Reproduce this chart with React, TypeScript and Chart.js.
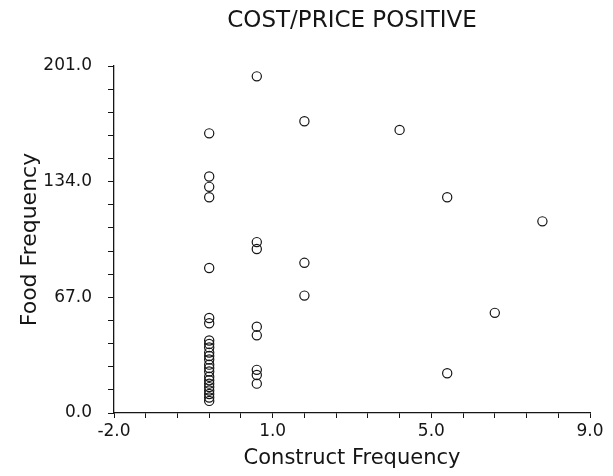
import React, { useEffect, useRef } from "react";
import { Chart, registerables } from "chart.js";

Chart.register(...registerables);

const TITLE = "COST/PRICE POSITIVE";
const X_TITLE = "Construct Frequency";
const Y_TITLE = "Food Frequency";

// Axis ranges and tick labels as printed on the original chart
const X_MIN = -2;
const X_MAX = 8;
const X_LABELS = ["-2.0", "1.0", "5.0", "9.0"];
const Y_MIN = 0;
const Y_MAX = 201;
const Y_LABELS = ["0.0", "67.0", "134.0", "201.0"];
const MINOR_PER_MAJOR = 5;

// Scatter points (construct frequency, food frequency)
const constructX = [
  0, 0, 0, 0, 0, 0, 0, 0, 0, 0, 0, 0, 0, 0, 0, 0, 0, 0, 0, 0, 0, 0, 0, 0,
  1, 1, 1, 1, 1, 1, 1, 1,
  2, 2, 2,
  4,
  5, 5,
  6,
  7,
];
const foodY = [
  162, 137, 131, 125, 84, 55, 52, 42, 40, 38, 35, 33, 31, 28, 26, 24, 21, 19, 17, 15, 13, 11, 9, 7,
  195, 99, 95, 50, 45, 25, 22, 17,
  169, 87, 68,
  164,
  125, 23,
  58,
  111,
];

const INK = "#151515";
const FONT = "'DejaVu Sans', sans-serif";

export default function App() {
  const ref = useRef<HTMLCanvasElement | null>(null);

  useEffect(() => {
    if (!ref.current) return;
    const points = constructX.map((x, i) => ({ x, y: foodY[i] }));
    const nMajorX = X_LABELS.length - 1;
    const nMajorY = Y_LABELS.length - 1;

    const chart = new Chart(ref.current, {
      type: "scatter",
      data: {
        datasets: [
          {
            data: points,
            pointRadius: 4.6,
            pointHoverRadius: 4.6,
            pointBorderWidth: 1.2,
            pointBorderColor: INK,
            pointBackgroundColor: "rgba(0,0,0,0)",
          },
        ],
      },
      options: {
        responsive: false,
        animation: false,
        events: [],
        layout: { padding: { left: 0, right: 23, top: 0, bottom: 0 } },
        plugins: {
          legend: { display: false },
          tooltip: { enabled: false },
          title: {
            display: true,
            text: TITLE,
            fullSize: false,
            color: INK,
            font: { family: FONT, size: 23, weight: "normal" },
            padding: { top: 7, bottom: 31.4 },
          },
        },
        scales: {
          x: {
            type: "linear",
            min: X_MIN,
            max: X_MAX,
            afterBuildTicks: (scale: any) => {
              const n = nMajorX * MINOR_PER_MAJOR;
              const t = [];
              for (let i = 0; i <= n; i++) t.push({ value: X_MIN + (i * (X_MAX - X_MIN)) / n });
              scale.ticks = t;
            },
            afterFit: (scale: any) => {
              scale.height = 63;
            },
            ticks: {
              autoSkip: false,
              maxRotation: 0,
              color: INK,
              padding: 3,
              font: { family: FONT, size: 17 },
              callback: (_v: any, i: number) => (i % MINOR_PER_MAJOR === 0 ? X_LABELS[i / MINOR_PER_MAJOR] : ""),
            },
            grid: {
              display: true,
              drawOnChartArea: false,
              drawTicks: true,
              tickLength: 5,
              color: INK,
              lineWidth: 1,
            },
            border: { display: true, color: INK, width: 1.3 },
            title: {
              display: true,
              text: X_TITLE,
              color: INK,
              font: { family: FONT, size: 21 },
              padding: { top: 0, bottom: 5 },
            },
          },
          y: {
            type: "linear",
            min: Y_MIN,
            max: Y_MAX,
            afterBuildTicks: (scale: any) => {
              const n = nMajorY * MINOR_PER_MAJOR;
              const t = [];
              for (let i = 0; i <= n; i++) t.push({ value: Y_MIN + (i * (Y_MAX - Y_MIN)) / n });
              scale.ticks = t;
            },
            afterFit: (scale: any) => {
              scale.width = 114;
            },
            ticks: {
              autoSkip: false,
              color: INK,
              padding: 16,
              font: { family: FONT, size: 17 },
              callback: (_v: any, i: number) => (i % MINOR_PER_MAJOR === 0 ? Y_LABELS[i / MINOR_PER_MAJOR] : ""),
            },
            grid: {
              display: true,
              drawOnChartArea: false,
              drawTicks: true,
              tickLength: 6,
              color: INK,
              lineWidth: 1,
            },
            border: { display: true, color: INK, width: 1.3 },
            title: {
              display: true,
              text: Y_TITLE,
              color: INK,
              font: { family: FONT, size: 22 },
              padding: { top: 17, bottom: 0 },
            },
          },
        },
      },
    });
    return () => chart.destroy();
  }, []);

  return (
    <div style={{ position: "fixed", left: 0, top: 0, width: 613, height: 476, background: "#fff" }}>
      <canvas ref={ref} width={613} height={476} style={{ display: "block" }} />
    </div>
  );
}
